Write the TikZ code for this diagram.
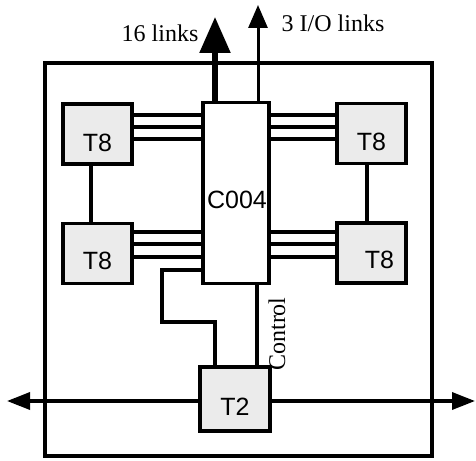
\documentclass[tikz,border=0pt]{standalone}
\usepackage{fontspec}
\setmainfont{Liberation Serif}
\setsansfont{Liberation Sans}
\usetikzlibrary{arrows.meta}
\begin{document}
\begin{tikzpicture}[x=1pt,y=-1pt,
  chip/.style={draw,line width=3.5pt,fill=black!8,minimum width=69pt,minimum height=60pt,inner sep=0pt},
  cbox/.style={draw,line width=3.5pt,fill=white,minimum width=66pt,minimum height=181pt,inner sep=0pt},
  wire/.style={line width=3.5pt},
  chiptext/.style={font=\sffamily\fontsize{25}{25}\selectfont},
  lbl/.style={font=\fontsize{24}{24}\selectfont,inner sep=0pt},
  bigarrow/.style={line width=5.5pt,-{Triangle[length=36pt,width=30pt]}},
  smallarrow/.style={line width=3pt,-{Triangle[length=23pt,width=19pt]}},
  harrow/.style={line width=3.5pt,-{Triangle[length=23pt,width=17pt]}}
]
\useasboundingbox (0,0) rectangle (476,460);
% frame
\draw[wire] (45,63) rectangle (432,456);
% horizontal bus through T2
\coordinate (hl) at (7,401);
\coordinate (hr) at (475,401);
\node[chip,minimum width=70pt,minimum height=64pt] (t2) at (235,399) {};
\draw[harrow] (t2.west |- 0,401) -- (hl);
\draw[harrow] (t2.east |- 0,401) -- (hr);
% chips
\node[cbox] (c) at (236,193) {};
\node[chiptext] at (237,200) {C004};
\node[chip,label={[chiptext,yshift=-9pt]center:T8}] (tl) at (97.5,134) {};
\node[chip,label={[chiptext,yshift=-7pt]center:T8}] (bl) at (97.5,253.5) {};
\node[chip,label={[chiptext,yshift=-8pt]center:T8}] (tr) at (371.5,133.5) {};
\node[chip,label={[chiptext,xshift=8pt,yshift=-7pt]center:T8}] (br) at (371.5,253) {};
\node[chiptext] at (t2.center) [yshift=-8pt] {T2};
% links
\foreach \y in {115,127,139} {
  \draw[wire] (tl.east |- 0,\y) -- (c.west |- 0,\y);
  \draw[wire] (tr.west |- 0,\y) -- (c.east |- 0,\y);
}
\foreach \y in {232,244,257} {
  \draw[wire] (bl.east |- 0,\y) -- (c.west |- 0,\y);
  \draw[wire] (br.west |- 0,\y) -- (c.east |- 0,\y);
}
\draw[wire] (tl.south -| 91,0) -- (bl.north -| 91,0);
\draw[wire] (tr.south -| 367,0) -- (br.north -| 367,0);
% top arrows
\coordinate (a16) at (215,17);
\coordinate (aio) at (258,5);
\draw[bigarrow] (c.north -| 215,0) -- (a16);
\draw[smallarrow] (c.north -| 258,0) -- (aio);
\node[lbl] (l16) at (160,33) {16 links};
\node[lbl] (lio) at (333,23) {3 I/O links};
% T2 connections
\draw[wire] (c.west |- 0,270) -- (162,270) -- (162,322) -- (215,322) -- (t2.north -| 215,0);
\draw[wire] (c.south -| 257,0) -- (t2.north -| 257,0);
\node[lbl,rotate=90] (ctl) at (277,334) {Control};
\end{tikzpicture}
\end{document}
